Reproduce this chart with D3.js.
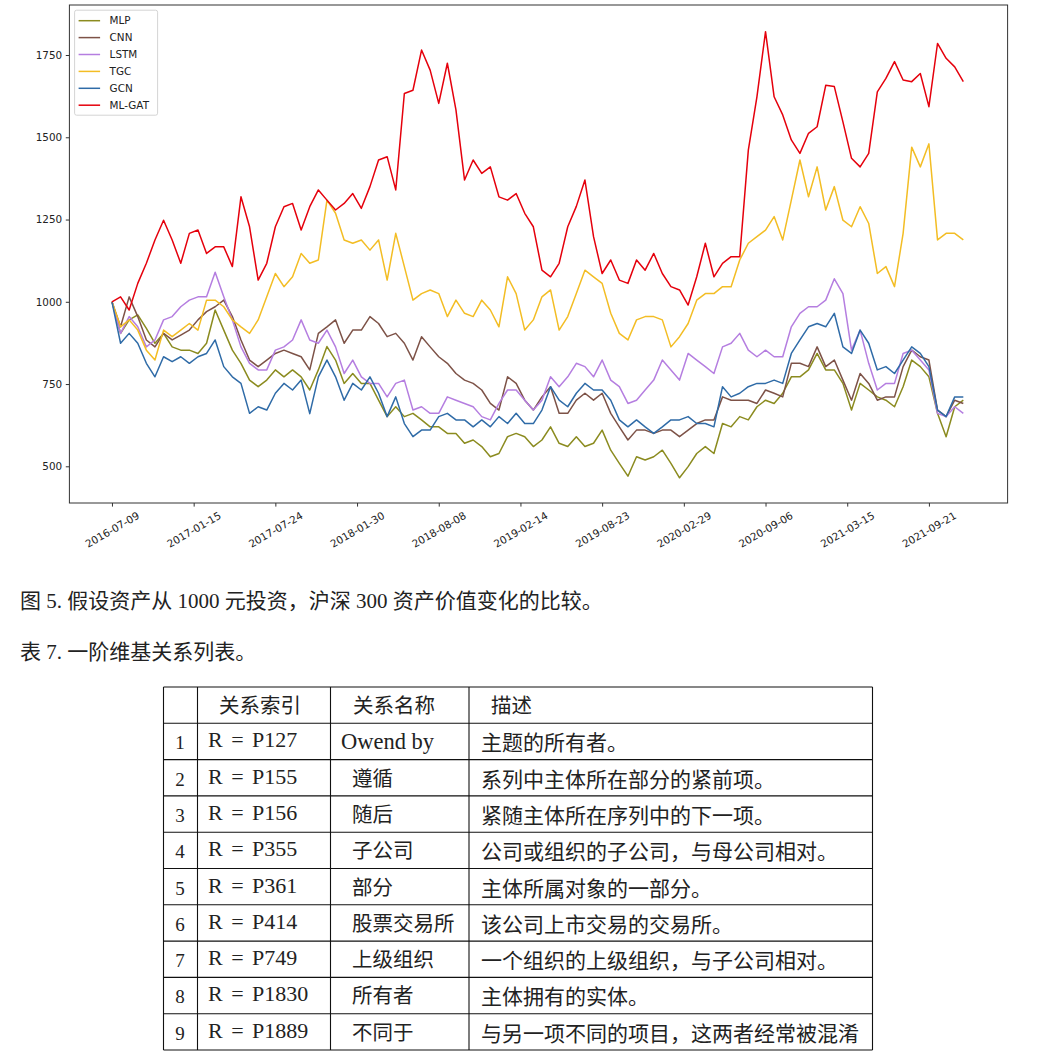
<!DOCTYPE html>
<html>
<head>
<meta charset="utf-8">
<script src="https://cdn.jsdelivr.net/npm/d3@7"></script>
<style>
  body { margin: 0; background: #fff; }
  svg { display: block; }
</style>
</head>
<body>
<svg id="fig" width="1062" height="1060"></svg>
<script>
// ---- data ----
const startDay = "2016-07-09";
const stepDays = 20;
const xTickLabels = ["2016-07-09", "2017-01-15", "2017-07-24", "2018-01-30", "2018-08-08", "2019-02-14",
  "2019-08-23", "2020-02-29", "2020-09-06", "2021-03-15", "2021-09-21"];
const yTicks = [500, 750, 1000, 1250, 1500, 1750];
const seriesNames = ["MLP", "CNN", "LSTM", "TGC", "GCN", "ML-GAT"];

const MLP = [1000, 904, 945, 960, 919, 874, 904, 863, 853, 853, 843, 874, 975, 914, 853, 813, 762, 742, 762, 793, 772, 793, 772, 732, 793,
  864, 823, 752, 782, 752, 752, 701, 651, 681, 651, 661, 641, 620, 620, 600, 600, 570, 580, 560, 529, 539, 590, 600, 590, 560,
  580, 620, 570, 560, 590, 560, 570, 610, 549, 509, 470, 529, 519, 529, 549, 509, 465, 499, 539, 560, 539, 630, 620, 651, 641,
  681, 701, 691, 722, 772, 772, 793, 843, 793, 793, 752, 671, 752, 732, 711, 701, 681, 742, 823, 803, 772, 661, 590, 681, 701];
const CNN = [1000, 924, 1015, 955, 884, 863, 904, 884, 899, 914, 945, 970, 985, 1005, 955, 884, 823, 803, 823, 843, 853, 843, 833, 793, 904,
  924, 945, 874, 914, 914, 955, 934, 894, 904, 874, 823, 894, 863, 833, 813, 782, 762, 752, 732, 691, 671, 772, 752, 701, 671,
  711, 742, 661, 661, 701, 722, 701, 722, 661, 620, 580, 610, 610, 600, 610, 610, 590, 610, 630, 641, 641, 711, 701, 701, 701,
  691, 732, 722, 711, 813, 813, 803, 863, 803, 823, 762, 701, 782, 752, 701, 711, 711, 803, 853, 833, 823, 671, 651, 701, 691];
const LSTM = [1000, 904, 955, 924, 863, 884, 945, 955, 985, 1005, 1015, 1015, 1090, 1015, 945, 863, 813, 793, 793, 853, 863, 884, 945, 884, 874,
  914, 863, 782, 823, 772, 752, 752, 711, 752, 762, 671, 681, 661, 661, 711, 701, 691, 681, 651, 641, 691, 732, 732, 701, 671,
  701, 772, 742, 772, 813, 803, 772, 823, 762, 742, 691, 701, 732, 762, 823, 793, 762, 843, 823, 803, 782, 863, 874, 904, 853,
  833, 853, 833, 833, 924, 965, 985, 985, 1005, 1070, 1025, 853, 914, 813, 732, 752, 752, 843, 853, 823, 793, 661, 651, 681, 661];
const TGC = [1000, 924, 945, 914, 853, 823, 914, 894, 914, 934, 914, 1005, 1005, 985, 945, 924, 904, 945, 1015, 1086, 1046, 1076, 1147, 1117, 1127,
  1309, 1269, 1188, 1178, 1188, 1157, 1188, 1066, 1208, 1107, 1005, 1025, 1036, 1025, 955, 1005, 965, 955, 1005, 975, 924, 1076, 1025, 914, 945,
  1015, 1036, 914, 955, 1025, 1096, 1076, 1056, 965, 904, 884, 945, 955, 955, 945, 863, 894, 934, 1005, 1025, 1025, 1046, 1046, 1127, 1178,
  1198, 1218, 1259, 1188, 1309, 1431, 1319, 1410, 1279, 1350, 1248, 1228, 1289, 1238, 1086, 1107, 1046, 1208, 1470, 1410, 1480, 1188, 1208, 1208, 1188];
const GCN = [1000, 874, 904, 874, 813, 772, 833, 818, 833, 813, 833, 843, 884, 803, 772, 752, 661, 681, 671, 722, 752, 732, 762, 660, 772,
  823, 772, 701, 752, 732, 772, 722, 651, 711, 630, 590, 610, 610, 651, 661, 641, 641, 620, 641, 620, 651, 630, 661, 630, 630,
  671, 742, 701, 681, 722, 752, 732, 732, 701, 641, 620, 641, 620, 600, 620, 641, 641, 651, 630, 630, 620, 742, 711, 722, 742,
  752, 752, 762, 752, 843, 884, 924, 934, 924, 965, 863, 843, 914, 874, 793, 803, 782, 823, 863, 843, 803, 671, 651, 711, 711];
const MLGAT = [1000, 1015, 975, 1056, 1117, 1188, 1248, 1188, 1117, 1208, 1218, 1147, 1167, 1167, 1107, 1319, 1228, 1066, 1117, 1228, 1289, 1299, 1218, 1289, 1340,
  1309, 1279, 1299, 1329, 1284, 1350, 1431, 1441, 1340, 1633, 1643, 1765, 1704, 1603, 1725, 1583, 1370, 1431, 1390, 1410, 1319, 1309, 1329, 1269, 1228,
  1096, 1076, 1117, 1228, 1290, 1370, 1198, 1086, 1127, 1066, 1056, 1127, 1096, 1147, 1086, 1046, 1036, 990, 1076, 1178, 1076, 1117, 1137, 1137, 1461,
  1623, 1821, 1623, 1568, 1492, 1451, 1512, 1532, 1658, 1654, 1547, 1436, 1410, 1451, 1638, 1679, 1730, 1674, 1669, 1694, 1593, 1785, 1740, 1714, 1669];

const figCaption = "图 5. 假设资产从 1000 元投资，沪深 300 资产价值变化的比较。";
const tableCaption = "表 7. 一阶维基关系列表。";
const tableHeader = ["", "关系索引", "关系名称", "描述"];
const relIndex = ["1", "2", "3", "4", "5", "6", "7", "8", "9"];
const relCode = ["R = P127", "R = P155", "R = P156", "R = P355", "R = P361", "R = P414", "R = P749", "R = P1830", "R = P1889"];
const relName = ["Owend by", "遵循", "随后", "子公司", "部分", "股票交易所", "上级组织", "所有者", "不同于"];
const relDesc = ["主题的所有者。", "系列中主体所在部分的紧前项。", "紧随主体所在序列中的下一项。",
  "公司或组织的子公司，与母公司相对。", "主体所属对象的一部分。", "该公司上市交易的交易所。",
  "一个组织的上级组织，与子公司相对。", "主体拥有的实体。", "与另一项不同的项目，这两者经常被混淆"];

// ---- layout ----
const colors = ["#8b8b1f", "#7d5247", "#b57ee0", "#f3bd24", "#2f6ba7", "#e5000c"];
const plot = { left: 69.4, right: 1007.6, top: 5, bottom: 503 };
const tickFont = "'DejaVu Sans', sans-serif";

const svg = d3.select("#fig");
svg.append("rect").attr("width", 1062).attr("height", 1060).attr("fill", "#fff");

const parse = d3.utcParse("%Y-%m-%d");
const start = parse(startDay);
const dates = MLP.map((_, i) => d3.utcDay.offset(start, i * stepDays));
const series = [MLP, CNN, LSTM, TGC, GCN, MLGAT].map((vals, k) => ({
  name: seriesNames[k],
  color: colors[k],
  values: vals.map((v, i) => ({ date: dates[i], value: v }))
}));

const x = d3.scaleUtc()
  .domain([parse("2016-04-01"), parse("2022-03-23")])
  .range([plot.left, plot.right]);
const y = d3.scaleLinear()
  .domain([388.5, 1902])
  .range([plot.bottom, plot.top]);

const chart = svg.append("g");

// Lines
const lineGen = d3.line()
  .x((d) => x(d.date))
  .y((d) => y(d.value));

chart.append("g")
  .selectAll("path")
  .data(series)
  .join("path")
  .attr("d", (d) => lineGen(d.values))
  .attr("fill", "none")
  .attr("stroke", (d) => d.color)
  .attr("stroke-width", 1.5)
  .attr("stroke-linejoin", "round");

// Axes
const xAxis = chart.append("g")
  .attr("transform", `translate(0,${plot.bottom})`)
  .call(d3.axisBottom(x)
    .tickValues(xTickLabels.map(parse))
    .tickFormat(d3.utcFormat("%Y-%m-%d"))
    .tickSize(3.6)
    .tickSizeOuter(0));
xAxis.select(".domain").remove();
xAxis.selectAll("line").attr("stroke", "#333");
xAxis.selectAll("text")
  .attr("y", 0)
  .attr("dy", "0.32em")
  .attr("text-anchor", "middle")
  .attr("transform", "translate(0,27) rotate(-30)")
  .style("font-family", tickFont)
  .style("font-size", "10.4px")
  .attr("fill", "#222");

const yAxis = chart.append("g")
  .attr("transform", `translate(${plot.left},0)`)
  .call(d3.axisLeft(y)
    .tickValues(yTicks)
    .tickFormat(d3.format("d"))
    .tickSize(3.6)
    .tickPadding(3.6)
    .tickSizeOuter(0));
yAxis.select(".domain").remove();
yAxis.selectAll("line").attr("stroke", "#333");
yAxis.selectAll("text")
  .style("font-family", tickFont)
  .style("font-size", "10.4px")
  .attr("fill", "#222");

// Frame
chart.append("rect")
  .attr("x", plot.left)
  .attr("y", plot.top)
  .attr("width", plot.right - plot.left)
  .attr("height", plot.bottom - plot.top)
  .attr("fill", "none")
  .attr("stroke", "#333")
  .attr("stroke-width", 1);

// Legend
const legend = chart.append("g").attr("transform", `translate(${plot.left + 5.2},${plot.top + 5.2})`);
legend.append("rect")
  .attr("width", 83)
  .attr("height", 105)
  .attr("rx", 2)
  .attr("fill", "#fff")
  .attr("fill-opacity", 0.85)
  .attr("stroke", "#d4d4d4");
const items = legend.selectAll(".item")
  .data(series)
  .join("g")
  .attr("class", "item")
  .attr("transform", (d, i) => `translate(0,${10.5 + i * 16.9})`);
items.append("line")
  .attr("x1", 4).attr("x2", 25.5)
  .attr("stroke", (d) => d.color)
  .attr("stroke-width", 1.5);
items.append("text")
  .attr("x", 35)
  .attr("dy", "0.36em")
  .text((d) => d.name)
  .style("font-family", tickFont)
  .style("font-size", "10.4px")
  .attr("fill", "#222");

// ---- captions ----
const textFont = "'Liberation Serif', 'Noto Sans CJK SC', serif";
svg.append("text")
  .attr("x", 20).attr("y", 608)
  .text(figCaption)
  .style("font-family", textFont)
  .style("font-size", "21px")
  .attr("fill", "#222");
svg.append("text")
  .attr("x", 20).attr("y", 659)
  .text(tableCaption)
  .style("font-family", textFont)
  .style("font-size", "21px")
  .attr("fill", "#222");

// ---- table ----
const colX = [163.5, 197.5, 330.5, 469, 872.5];
const rowTop = 687;
const rowH = 36.3;
const nRows = relIndex.length + 1;
const table = svg.append("g");

table.selectAll(".hline")
  .data(d3.range(nRows + 1))
  .join("line")
  .attr("x1", colX[0]).attr("x2", colX[4])
  .attr("y1", (i) => rowTop + i * rowH).attr("y2", (i) => rowTop + i * rowH)
  .attr("stroke", "#111").attr("stroke-width", 1.1);
table.selectAll(".vline")
  .data(colX)
  .join("line")
  .attr("x1", (d) => d).attr("x2", (d) => d)
  .attr("y1", rowTop).attr("y2", rowTop + nRows * rowH)
  .attr("stroke", "#111").attr("stroke-width", 1.1);

const cjk = "'Noto Sans CJK SC', sans-serif";
const serif = "'Liberation Serif', serif";
const headX = [0, 219, 353, 491];
tableHeader.forEach((h, c) => {
  if (!h) return;
  table.append("text")
    .attr("x", headX[c]).attr("y", rowTop + 26)
    .text(h)
    .style("font-family", cjk).style("font-size", "20.5px").attr("fill", "#222");
});

const rows = table.selectAll(".row")
  .data(relIndex.map((n, i) => ({ n, code: relCode[i], name: relName[i], desc: relDesc[i] })))
  .join("g")
  .attr("transform", (d, i) => `translate(0,${rowTop + (i + 1) * rowH})`);

rows.append("text")
  .attr("x", 180).attr("y", 26)
  .attr("text-anchor", "middle")
  .text((d) => d.n)
  .style("font-family", serif).style("font-size", "19px").attr("fill", "#222");
rows.append("text")
  .attr("x", 208).attr("y", 24)
  .text((d) => d.code)
  .style("font-family", serif).style("font-size", "22px").style("word-spacing", "3px").attr("fill", "#222");
rows.append("text")
  .attr("x", (d) => (/^[A-Za-z]/.test(d.name) ? 341 : 352))
  .attr("y", 26)
  .text((d) => d.name)
  .style("font-family", (d) => (/^[A-Za-z]/.test(d.name) ? serif : cjk))
  .style("font-size", (d) => (/^[A-Za-z]/.test(d.name) ? "22.5px" : "20.5px"))
  .attr("fill", "#222");
rows.append("text")
  .attr("x", 481).attr("y", 27)
  .text((d) => d.desc)
  .style("font-family", cjk).style("font-size", "21px").attr("fill", "#222");
</script>
</body>
</html>
